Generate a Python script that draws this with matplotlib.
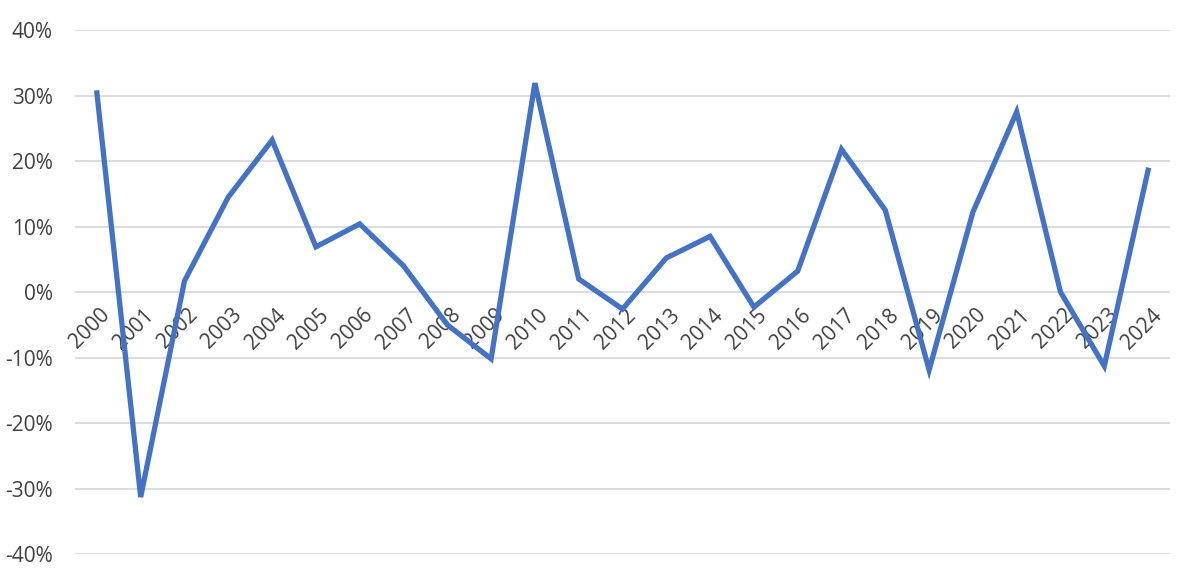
import matplotlib
matplotlib.use("Agg")
import matplotlib.pyplot as plt
from matplotlib.ticker import FuncFormatter
from matplotlib.transforms import ScaledTranslation

years = [str(y) for y in range(2000, 2025)]
values = [30.4, -31.3, 1.7, 14.5, 23.2, 6.9, 10.4, 4.0, -5.0, -10.2,
          31.9, 2.0, -2.6, 5.2, 8.5, -2.3, 3.2, 21.8, 12.5, -11.9,
          12.2, 27.5, 0.0, -11.3, 18.6]
y_ticks = [-40, -30, -20, -10, 0, 10, 20, 30, 40]

plt.rcParams['font.family'] = ['Open Sans', 'DejaVu Sans']

fig = plt.figure(figsize=(12, 5.78), dpi=100)
ax = fig.add_axes([0.0625, 0.0415, 0.9125, 0.9065])

x = list(range(len(years)))
ax.plot(x, values, color='#4472C4', linewidth=3.8, solid_joinstyle='miter', zorder=3)

ax.set_xlim(-0.5, len(years) - 0.5)
ax.set_ylim(-40, 40)
ax.set_yticks(y_ticks)
ax.yaxis.set_major_formatter(FuncFormatter(lambda v, p: f"{int(v)}%"))
ax.grid(axis='y', color='#D9D9D9', linewidth=1.3, zorder=0)
ax.set_axisbelow(True)

for s in ax.spines.values():
    s.set_visible(False)
ax.spines['bottom'].set_position(('data', 0))

ax.set_xticks(x)
ax.set_xticklabels(years, rotation=45, ha='right', va='top', rotation_mode='anchor')
ax.tick_params(axis='x', length=0, pad=9, labelsize=15, labelcolor='#404040')
ax.tick_params(axis='y', length=0, pad=16, labelsize=15, labelcolor='#404040')
for lbl in ax.get_xticklabels():
    lbl.set_transform(lbl.get_transform() + ScaledTranslation(2/72, 0, fig.dpi_scale_trans))

fig.savefig('out.png', dpi=100, facecolor='white')
